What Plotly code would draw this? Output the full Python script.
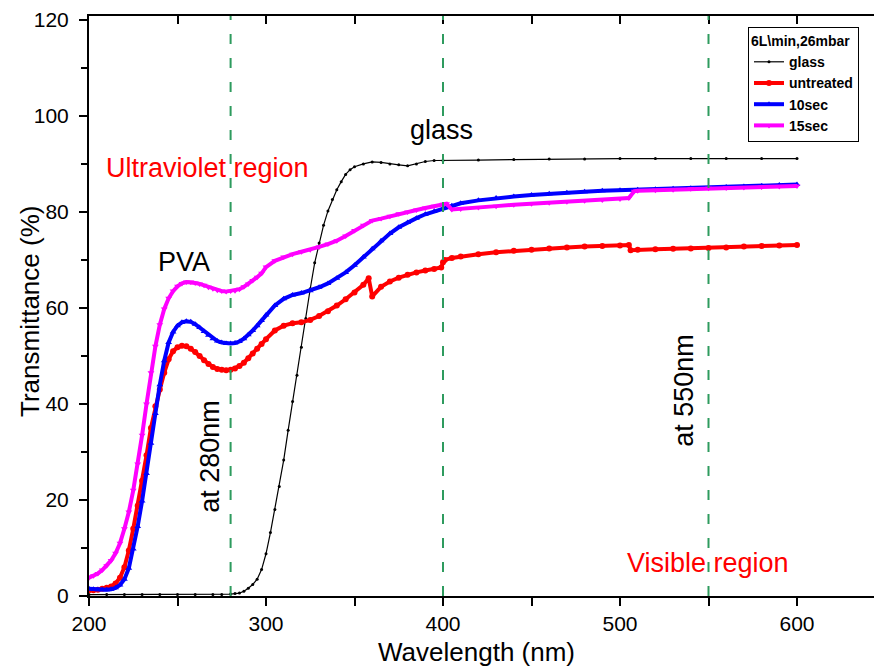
import plotly.graph_objects as go

# ---------------- data ----------------
wl_glass = [200, 210, 220, 230, 240, 250, 260, 270, 275, 280, 282.5, 285, 287.5, 290, 292.5, 295, 297.5,
            300, 302.5, 305, 307.5, 310, 312.5, 315, 317.5, 320, 322.5, 325, 327.5, 330, 332.5, 335,
            337.5, 340, 342.5, 345, 347.5, 350, 355, 360, 365, 370, 375, 380, 385, 390, 395, 400,
            420, 440, 460, 480, 500, 520, 540, 560, 580, 600]
t_glass = [0.3, 0.3, 0.3, 0.3, 0.3, 0.3, 0.3, 0.3, 0.3, 0.4, 0.5, 0.6, 1.0, 1.6, 2.4, 3.5, 5.5,
           8.8, 13.2, 18.0, 22.8, 28.3, 34.5, 40.5, 46.0, 51.8, 57.8, 64.0, 69.4, 73.5, 77.2, 80.2,
           82.6, 84.6, 86.3, 87.8, 88.8, 89.4, 90.0, 90.4, 90.3, 90.0, 89.8, 89.6, 90.0, 90.5, 90.7, 90.7,
           90.8, 90.9, 91.0, 91.0, 91.1, 91.1, 91.1, 91.1, 91.1, 91.1]

wl_untreated = [200, 202.5, 205, 207.5, 210, 212.5, 215, 217.5, 220, 222.5, 225, 227.5, 230, 232.5,
                235, 237.5, 240, 242.5, 245, 247.5, 250, 252.5, 255, 257.5, 260, 262.5, 265, 267.5,
                270, 272.5, 275, 277.5, 280, 282.5, 285, 287.5, 290, 292.5, 295, 297.5, 300, 305, 310,
                315, 320, 325, 330, 335, 340, 345, 350, 355, 358, 360, 365, 370, 375, 380, 385, 390,
                395, 399, 400, 401, 405, 410, 420, 430, 440, 450, 460, 470, 480, 490, 500, 505, 506,
                510, 520, 530, 540, 550, 560, 570, 580, 590, 600]
t_untreated = [1.2, 1.2, 1.3, 1.5, 1.7, 2.0, 2.6, 3.8, 6.0, 9.5, 14.0, 18.8, 24.0, 29.3,
               35.0, 39.5, 43.0, 46.5, 49.3, 51.0, 51.8, 52.1, 52.0, 51.5, 50.8, 50.0, 49.1, 48.3,
               47.7, 47.3, 47.1, 47.0, 47.1, 47.4, 47.9, 48.6, 49.5, 50.5, 51.5, 52.5, 53.5, 55.3, 56.3,
               56.8, 57.0, 57.5, 58.3, 59.3, 60.5, 61.8, 63.2, 64.8, 66.2, 62.4, 64.4, 65.5, 66.3, 66.9, 67.4, 67.8,
               68.1, 68.4, 69.5, 70.0, 70.4, 70.7, 71.2, 71.6, 71.9, 72.1, 72.4, 72.6, 72.8, 72.9, 73.0, 73.1, 72.0,
               72.1, 72.2, 72.3, 72.4, 72.5, 72.6, 72.8, 72.9, 73.0, 73.1]

wl_10sec = [200, 202.5, 205, 207.5, 210, 212.5, 215, 217.5, 220, 222.5, 225, 227.5, 230, 232.5,
            235, 237.5, 240, 242.5, 245, 247.5, 250, 252.5, 255, 257.5, 260, 262.5, 265, 267.5,
            270, 272.5, 275, 277.5, 280, 282.5, 285, 287.5, 290, 292.5, 295, 297.5, 300, 305, 310,
            315, 320, 325, 330, 335, 340, 345, 350, 355, 360, 365, 370, 375, 380, 385, 390, 395,
            400, 405, 410, 420, 430, 440, 450, 460, 470, 480, 490, 500, 510, 520, 530, 540, 550,
            560, 570, 580, 590, 600]
t_10sec = [1.5, 1.4, 1.3, 1.3, 1.3, 1.4, 1.7, 2.3, 3.5, 5.8, 9.8, 14.5, 19.8, 25.5,
           31.8, 38.0, 44.0, 49.0, 52.8, 55.0, 56.3, 57.0, 57.2, 57.1, 56.6, 55.9, 55.1, 54.3,
           53.6, 53.1, 52.8, 52.6, 52.6, 52.7, 53.0, 53.6, 54.4, 55.3, 56.3, 57.4, 58.5, 60.5, 61.9,
           62.7, 63.1, 63.6, 64.3, 65.1, 66.2, 67.4, 68.9, 70.6, 72.3, 74.0, 75.5, 76.8, 77.8, 78.7, 79.5, 80.1,
           80.7, 81.3, 81.8, 82.4, 82.9, 83.2, 83.5, 83.8, 84.0, 84.2, 84.4, 84.5, 84.6, 84.7, 84.8, 84.9, 85.1,
           85.2, 85.3, 85.4, 85.6, 85.7]

wl_15sec = [200, 202.5, 205, 207.5, 210, 212.5, 215, 217.5, 220, 222.5, 225, 227.5, 230, 232.5,
            235, 237.5, 240, 242.5, 245, 247.5, 250, 252.5, 255, 257.5, 260, 262.5, 265, 267.5,
            270, 272.5, 275, 277.5, 280, 282.5, 285, 287.5, 290, 292.5, 295, 297.5, 300, 305, 310,
            315, 320, 325, 330, 335, 340, 345, 350, 355, 360, 365, 370, 375, 380, 385, 390, 395,
            400, 402, 405, 410, 420, 430, 440, 450, 460, 470, 480, 490, 500, 505, 508, 510, 520,
            530, 540, 550, 560, 570, 580, 590, 600]
t_15sec = [3.8, 4.2, 4.7, 5.4, 6.3, 7.4, 8.9, 11.0, 14.0, 17.5, 22.0, 27.5, 33.5, 40.0,
           46.5, 52.0, 56.5, 59.8, 62.0, 63.5, 64.5, 65.1, 65.4, 65.4, 65.2, 65.0, 64.7, 64.3,
           64.0, 63.7, 63.5, 63.4, 63.5, 63.6, 63.9, 64.4, 65.0, 65.7, 66.4, 67.2, 68.5, 69.8, 70.6,
           71.2, 71.7, 72.1, 72.7, 73.3, 74.0, 75.0, 76.1, 77.2, 78.2, 78.6, 79.1, 79.6, 80.0, 80.4, 80.8, 81.2,
           81.6, 81.7, 80.5, 80.6, 80.9, 81.2, 81.5, 81.7, 81.9, 82.1, 82.3, 82.5, 82.7, 82.9, 84.3, 84.4, 84.5,
           84.6, 84.8, 84.9, 85.0, 85.1, 85.2, 85.3, 85.4]

marker_lines = [280, 400, 550]
x_ticks = [200, 300, 400, 500, 600]
y_ticks = [0, 20, 40, 60, 80, 100, 120]

FONT = "Liberation Sans, Arial, sans-serif"
GREEN = "#2E9B5E"

W, H = 874, 667
L, R, T, B = 89, 0, 16, 71
pw, ph = W - L - R, H - T - B

fig = go.Figure()
fig.add_trace(go.Scatter(x=wl_glass, y=t_glass, name="glass", mode="lines+markers",
                         line=dict(color="black", width=1.2),
                         marker=dict(symbol="circle", size=3, color="black")))
fig.add_trace(go.Scatter(x=wl_untreated, y=t_untreated, name="untreated", mode="lines+markers",
                         line=dict(color="#FF0000", width=4),
                         marker=dict(symbol="circle", size=6, color="#FF0000")))
fig.add_trace(go.Scatter(x=wl_10sec, y=t_10sec, name="10sec", mode="lines+markers",
                         line=dict(color="#0000FF", width=4),
                         marker=dict(symbol="triangle-up", size=6, color="#0000FF")))
fig.add_trace(go.Scatter(x=wl_15sec, y=t_15sec, name="15sec", mode="lines+markers",
                         line=dict(color="#FF00FF", width=4),
                         marker=dict(symbol="triangle-down", size=6, color="#FF00FF")))

# invisible trace to host the top mirror axis
fig.add_trace(go.Scatter(x=[200], y=[0], xaxis="x2", mode="markers",
                         marker=dict(opacity=0), showlegend=False, hoverinfo="skip"))

for xv in marker_lines:
    fig.add_shape(type="line", xref="x", yref="paper", x0=xv, x1=xv, y0=0, y1=1,
                  line=dict(color=GREEN, width=2, dash="10px,14px"))

ann = [
    dict(text="glass", x=398.9, y=97.1, color="black"),
    dict(text="Ultraviolet region", x=266.7, y=89.2, color="#FF0000"),
    dict(text="PVA", x=253.7, y=69.6, color="black"),
    dict(text="Visible region", x=549.7, y=6.9, color="#FF0000"),
]
for a in ann:
    fig.add_annotation(x=a["x"], y=a["y"], xref="x", yref="y", text=a["text"], showarrow=False,
                       xanchor="center", yanchor="middle",
                       font=dict(family=FONT, size=27, color=a["color"]))
for txt, xv, yv in [("at 280nm", 268.4, 29.0), ("at 550nm", 536.0, 42.9)]:
    fig.add_annotation(x=xv, y=yv, xref="x", yref="y", text=txt, showarrow=False, textangle=-90,
                       xanchor="center", yanchor="middle",
                       font=dict(family=FONT, size=27, color="black"))

# axis titles placed as annotations (pixel positions converted to paper coords)
fig.add_annotation(x=(476 - L) / pw, y=(H - B - 652) / ph, xref="paper", yref="paper",
                   text="Wavelength (nm)", showarrow=False, xanchor="center", yanchor="middle",
                   font=dict(family=FONT, size=26, color="black"))
fig.add_annotation(x=(30 - L) / pw, y=(H - B - 312) / ph, xref="paper", yref="paper",
                   text="Transmittance (%)", showarrow=False, textangle=-90,
                   xanchor="center", yanchor="middle",
                   font=dict(family=FONT, size=26, color="black"))

fig.update_layout(
    width=W, height=H,
    margin=dict(l=L, r=R, t=T, b=B),
    paper_bgcolor="white", plot_bgcolor="white",
    font=dict(family=FONT, color="black"),
    showlegend=True,
    legend=dict(x=(748 - L) / pw, y=(H - B - 27) / ph, xanchor="left", yanchor="top",
                bgcolor="white", bordercolor="black", borderwidth=1,
                font=dict(family=FONT, size=14, color="black", weight="bold"),
                title=dict(text="6L\\min,26mbar", font=dict(family=FONT, size=14, weight="bold")),
                tracegroupgap=0, itemwidth=30),
    xaxis=dict(range=[200, 643.5], tickvals=x_ticks, showgrid=False, zeroline=False, automargin=False,
               showline=True, linecolor="black", linewidth=2,
               ticks="outside", ticklen=8, tickwidth=1.5, tickcolor="black",
               minor=dict(dtick=50, tick0=200, ticks="outside", ticklen=8, tickwidth=1.5, tickcolor="black"),
               tickfont=dict(family=FONT, size=21)),
    xaxis2=dict(overlaying="x", side="top", range=[200, 643.5], tickvals=x_ticks, automargin=False,
                showticklabels=False, showgrid=False, zeroline=False,
                showline=True, linecolor="black", linewidth=2,
                ticks="inside", ticklen=8, tickwidth=1.5, tickcolor="black",
                minor=dict(dtick=50, tick0=200, ticks="inside", ticklen=8, tickwidth=1.5, tickcolor="black")),
    yaxis=dict(range=[0, 120.8], tickvals=y_ticks, showgrid=False, zeroline=False, automargin=False,
               showline=True, linecolor="black", linewidth=2,
               ticks="outside", ticklen=8, tickwidth=1.5, tickcolor="black", ticklabelstandoff=6,
               minor=dict(dtick=10, tick0=0, ticks="outside", ticklen=6, tickwidth=1.5, tickcolor="black"),
               tickfont=dict(family=FONT, size=21)),
)

fig.write_html("out.html", config={"displayModeBar": False})

# remove the default page margin so the figure sits at the window's top-left corner
with open("out.html", "r", encoding="utf-8") as f:
    html = f.read()
html = html.replace("<head>", "<head><style>html,body{margin:0;padding:0;overflow:hidden;}</style>", 1)
with open("out.html", "w", encoding="utf-8") as f:
    f.write(html)
